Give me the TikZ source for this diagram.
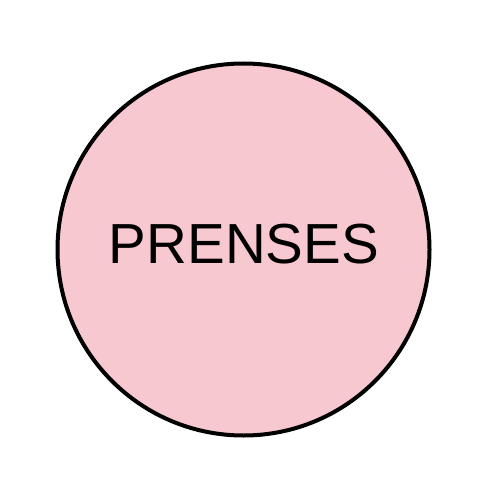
\documentclass[tikz,border=0pt]{standalone}
\usepackage{fontspec}
\setmainfont{Liberation Sans}
\usepackage{xcolor}
\definecolor{prensepink}{HTML}{F8C8D0}

\begin{document}
\begin{tikzpicture}[x=1pt,y=-1pt]
		\useasboundingbox (0,0) rectangle (500,500);
		\draw[line width=4pt,fill=prensepink] (243.5,249.5) circle (186);
		\node (prenses) at (244,244) {\fontsize{56.5}{60}\selectfont PRENSES};
	\end{tikzpicture}
\end{document}
